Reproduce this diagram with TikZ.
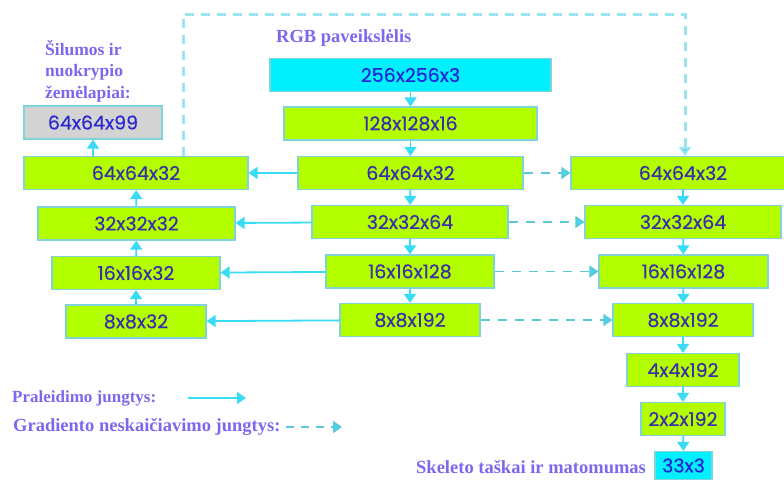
\documentclass[tikz,border=0pt]{standalone}
\usepackage{fontspec}
\setmainfont{Liberation Serif}
\newfontfamily\boxfont[FakeBold=0.4]{Poppins}
\usetikzlibrary{arrows.meta}
\definecolor{gfill}{HTML}{B3FF00}
\definecolor{cfill}{HTML}{00F0FF}
\definecolor{grfill}{HTML}{D3D3D3}
\definecolor{bline}{HTML}{7FD4D8}
\definecolor{arrc}{HTML}{3ADCF5}
\definecolor{dashc}{HTML}{5CC8D8}
\definecolor{topc}{HTML}{9BE5EE}
\definecolor{gtext}{HTML}{3A2FA8}
\definecolor{ctext}{HTML}{2626D9}
\definecolor{lbl}{HTML}{7B68EE}
\tikzset{
  box/.style={draw=bline, line width=1.2pt, minimum height=33pt, inner sep=0pt,
    font=\boxfont\fontsize{19}{22}\selectfont},
  gbox/.style={box, fill=gfill, text=gtext},
  cbox/.style={box, fill=cfill, text=ctext},
  grbox/.style={box, fill=grfill, text=ctext!80!gtext},
  arr/.style={draw=arrc, line width=1.8pt, -{Triangle[width=12pt,length=9pt]}},
  darr/.style={draw=dashc, line width=1.8pt, dash pattern=on 9pt off 8pt, -{Triangle[width=12pt,length=9pt,fill=arrc]}},
  tarr/.style={draw=topc, line width=3pt, dash pattern=on 9pt off 7pt, -{Triangle[width=12pt,length=9pt,fill=arrc]}},
  lab/.style={text=lbl, font=\bfseries\fontsize{18.5}{21.5}\selectfont, inner sep=0pt},
}
\begin{document}
\begin{tikzpicture}[x=1pt,y=-1pt]
\useasboundingbox (0,0) rectangle (784,479);
% centre column
\node[cbox, minimum width=281pt] (rgb) at (410.5,75) {256x256x3};
\node[gbox, minimum width=253pt] (c128) at (410.5,123.5) {128x128x16};
\node[gbox, minimum width=225pt] (c64) at (410.5,173) {64x64x32};
\node[gbox, minimum width=196pt] (c32) at (410,222) {32x32x64};
\node[gbox, minimum width=168pt] (c16) at (410,271.5) {16x16x128};
\node[gbox, minimum width=140pt] (c8) at (410,320) {8x8x192};
% left column
\node[grbox, minimum width=138pt] (heat) at (93,122.5) {64x64x99};
\node[gbox, minimum width=224pt] (l64) at (136,173) {64x64x32};
\node[gbox, minimum width=197pt] (l32) at (136.5,223.5) {32x32x32};
\node[gbox, minimum width=168pt] (l16) at (136,273) {16x16x32};
\node[gbox, minimum width=140pt] (l8) at (136,321.5) {8x8x32};
% right column
\node[gbox, minimum width=224pt] (r64) at (683,173) {64x64x32};
\node[gbox, minimum width=196pt] (r32) at (683,222) {32x32x64};
\node[gbox, minimum width=169pt] (r16) at (683.5,271.5) {16x16x128};
\node[gbox, minimum width=140pt] (r8) at (683,320) {8x8x192};
\node[gbox, minimum width=112pt] (r4) at (683,370) {4x4x192};
\node[gbox, minimum width=84pt] (r2) at (683,419) {2x2x192};
\node[cbox, minimum width=57pt, minimum height=28pt] (out) at (683.5,465.5) {33x3};
% labels
\node[lab, anchor=north west, align=left, font=\bfseries\fontsize{17.5}{21.5}\selectfont] (hlab) at (45,40) {Šilumos ir\\nuokrypio\\žemėlapiai:};
\node[lab, anchor=west] (rgblab) at (276,38) {RGB paveikslėlis};
\node[lab, anchor=west] (sklab) at (416,467) {Skeleto taškai ir matomumas};
\node[lab, anchor=west, font=\bfseries\fontsize{17}{21}\selectfont] (leg1) at (12,398) {Praleidimo jungtys:};
\node[lab, anchor=west] (leg2) at (13,427) {Gradiento neskaičiavimo jungtys:};
% centre arrows
\draw[arr] (rgb) -- (c128);
\draw[arr] (c128) -- (c64);
\draw[arr] (c64) -- (c32);
\draw[arr] (c32) -- (c16);
\draw[arr] (c16) -- (c8);
% left arrows (upwards)
\draw[arr] (l8) -- (l16);
\draw[arr] (l16) -- (l32);
\draw[arr] (l32) -- (l64);
\draw[arr] (l64.north -| heat) -- (heat);
% skip connections
\draw[arr] (c64) -- (l64);
\draw[arr] (c32) -- (l32);
\draw[arr] (c16) -- (l16);
\draw[arr] (c8) -- (l8);
% gradient stop connections
\draw[darr] (c64) -- (r64);
\draw[darr] (c32) -- (r32);
\draw[darr] (c16) -- (r16);
\draw[darr] (c8) -- (r8);
% right column arrows
\draw[arr] (r64) -- (r32);
\draw[arr] (r32) -- (r16);
\draw[arr] (r16) -- (r8);
\draw[arr] (r8) -- (r4);
\draw[arr] (r4) -- (r2);
\draw[arr] (r2) -- (out);
% top dashed loop
\coordinate (tl) at (183,14);
\coordinate (tr) at (685,14);
\draw[tarr] (l64.north -| tl) -- (tl) -- (tr) -- (r64.north -| tr);
% legend arrows
\coordinate (a1s) at (188,398);
\coordinate (a1e) at (246,398);
\coordinate (a2s) at (286,427);
\coordinate (a2e) at (342,427);
\draw[arr] (a1s) -- (a1e);
\draw[darr, dash pattern=on 8pt off 7pt] (a2s) -- (a2e);
\end{tikzpicture}
\end{document}
